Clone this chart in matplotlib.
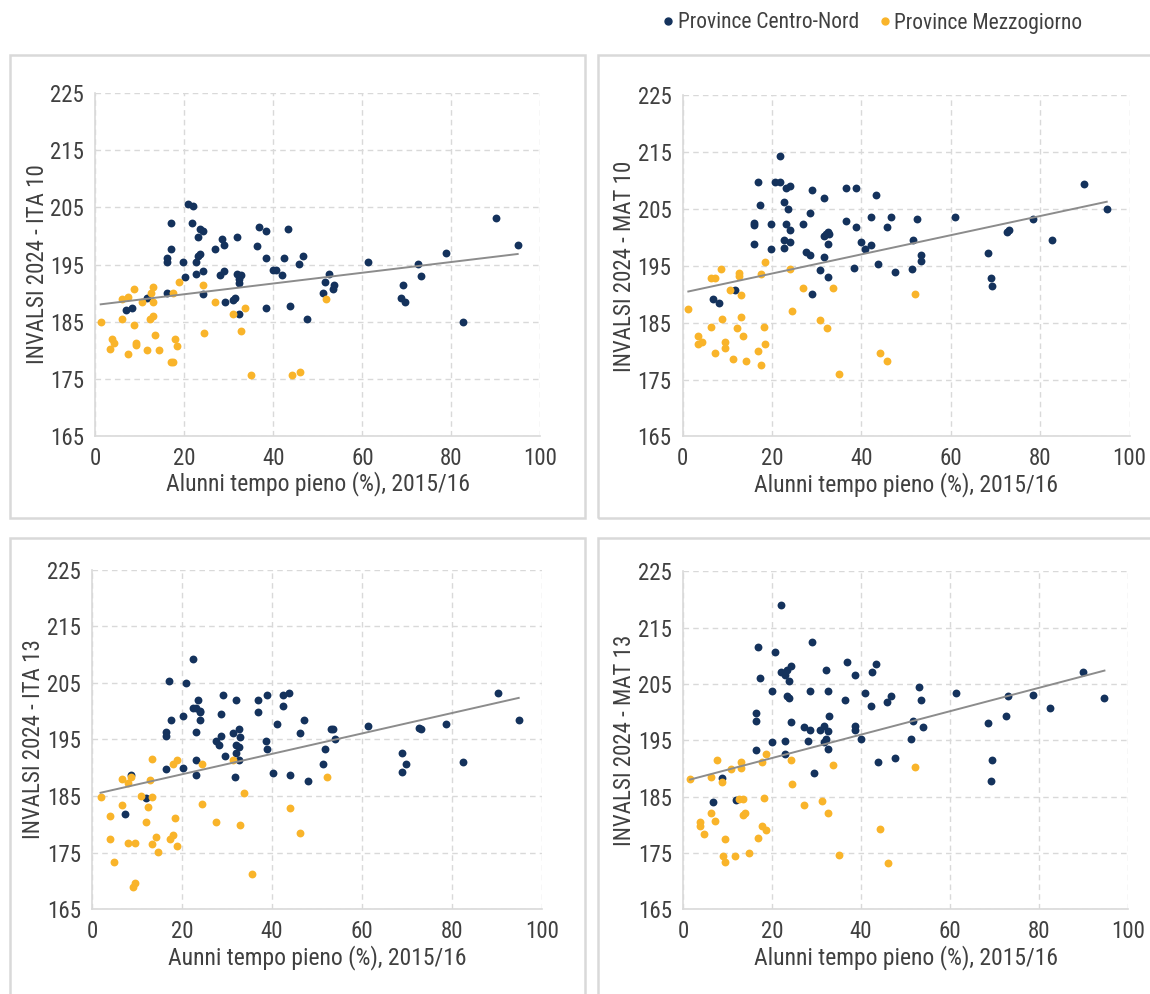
import numpy as np
import matplotlib
matplotlib.use('Agg')
from matplotlib import pyplot as plt
from matplotlib import font_manager as fm
from matplotlib.patches import Rectangle
from matplotlib.lines import Line2D

# pick a condensed face if one is installed, else shrink DejaVu
_faces = [(f.name, str(f.stretch)) for f in fm.fontManager.ttflist]
_names = {n for n, _ in _faces}
SCALE = 1.0
if 'Roboto Condensed' in _names:
    plt.rcParams['font.family'] = ['Roboto Condensed', 'DejaVu Sans']
elif ('DejaVu Sans', 'condensed') in _faces:
    plt.rcParams['font.family'] = ['DejaVu Sans']
    plt.rcParams['font.stretch'] = 'condensed'
elif 'Liberation Sans Narrow' in _names:
    plt.rcParams['font.family'] = ['Liberation Sans Narrow', 'DejaVu Sans']
else:
    plt.rcParams['font.family'] = ['DejaVu Sans']
    SCALE = 0.86

NAVY = '#14325c'
GOLD = '#f9b42a'
TXT = '#404040'
GRID = '#d9d9d9'

# ---- ITA 10 ----
ita10_cn_x = [20.8, 21.9, 16.9, 21.8, 23.6, 24.1, 23.1, 28.4, 28.8, 31.8, 27.0, 36.7, 38.4, 43.2, 36.3,
              16.9, 16.1, 16.1, 19.6, 22.6, 23.1, 23.6, 38.4, 42.3, 46.7, 45.8, 40.0, 40.6, 41.9, 22.6,
              24.1, 20.1, 27.9, 28.8, 31.8, 32.8, 32.3, 32.3, 16.1, 11.7, 24.1, 29.2, 31.0, 31.4, 32.3,
              38.4, 43.7, 47.6, 6.9, 8.3, 52.5, 51.6, 53.7, 53.3, 51.1, 61.2, 69.1, 68.6, 69.5, 72.6,
              73.1, 78.7, 82.6, 90.1, 94.9]
ita10_cn_y = [205.5, 205.2, 202.2, 202.2, 201.2, 200.8, 199.8, 199.5, 198.4, 199.8, 197.8, 201.5, 200.8, 201.2, 198.2,
              197.8, 196.1, 195.5, 195.5, 195.5, 196.5, 196.8, 196.1, 196.1, 196.5, 195.1, 194.1, 194.1, 193.1, 193.4,
              193.8, 192.8, 193.1, 193.8, 193.4, 193.1, 192.4, 191.7, 190.1, 189.1, 189.8, 188.4, 188.8, 189.1, 186.4,
              187.4, 187.7, 185.4, 187.1, 187.4, 193.4, 192.0, 191.4, 190.7, 190.1, 195.4, 191.4, 189.1, 188.4, 195.1,
              193.0, 197.1, 185.0, 203.1, 198.4]
ita10_mz_x = [1.2, 3.8, 4.3, 3.4, 6.0, 6.0, 7.4, 8.6, 8.6, 7.4, 9.1, 9.1, 10.5, 12.6, 13.0, 13.0, 12.2, 13.0,
              13.5, 11.7, 14.4, 17.0, 17.4, 17.8, 18.3, 18.7, 17.4, 24.1, 24.4, 27.0, 31.0, 33.6, 32.8, 34.9,
              44.1, 45.9, 51.8]
ita10_mz_y = [185.0, 182.0, 181.3, 180.3, 185.4, 189.0, 189.4, 190.7, 184.4, 179.3, 181.3, 181.0, 188.4, 190.1,
              191.0, 188.4, 185.4, 186.0, 182.7, 180.0, 180.0, 178.0, 178.0, 182.0, 180.7, 192.0, 190.1, 191.4,
              183.0, 188.4, 186.4, 187.4, 183.3, 175.6, 175.6, 176.2, 189.0]

# ---- MAT 10 ----
mat10_cn_x = [21.9, 16.9, 20.6, 21.9, 23.2, 24.0, 28.9, 31.6, 36.6, 38.7, 43.3, 17.3, 22.7, 23.6, 28.6,
              16.0, 16.0, 19.8, 23.2, 24.0, 26.9, 31.6, 32.0, 32.5, 32.8, 36.6, 38.7, 42.1, 45.8, 46.7,
              16.0, 22.7, 24.0, 22.7, 19.8, 27.7, 28.6, 31.6, 32.5, 40.0, 40.8, 42.1, 30.7, 32.5, 38.4,
              43.7, 47.5, 11.8, 6.8, 8.1, 28.9, 52.5, 51.6, 53.4, 53.4, 51.3, 60.9, 68.4, 68.9, 69.3,
              72.6, 73.0, 78.5, 82.7, 89.8, 94.9]
mat10_cn_y = [214.4, 209.7, 209.7, 209.7, 208.7, 209.0, 208.4, 207.0, 208.7, 208.7, 207.4, 205.7, 206.3, 205.0, 204.3,
              202.5, 202.2, 202.3, 202.3, 201.3, 202.3, 200.3, 200.6, 200.9, 200.6, 202.9, 201.9, 203.6, 201.9, 203.6,
              198.9, 199.6, 199.2, 198.2, 197.9, 197.5, 196.9, 196.5, 198.9, 199.2, 197.9, 198.6, 194.3, 193.0, 194.6,
              195.3, 193.9, 190.8, 189.1, 188.4, 190.1, 203.2, 199.6, 196.9, 195.8, 194.5, 203.6, 197.2, 192.8, 191.4,
              200.9, 201.3, 203.2, 199.6, 209.4, 205.0]
mat10_mz_x = [1.3, 3.5, 3.5, 4.3, 6.4, 7.2, 6.4, 7.3, 8.5, 8.9, 9.4, 9.4, 10.6, 11.4, 12.2, 12.6, 12.6, 13.1,
              13.1, 13.5, 14.3, 16.9, 17.6, 18.2, 18.5, 17.6, 18.5, 24.0, 24.4, 26.9, 30.7, 32.4, 33.7, 34.9,
              44.1, 45.8, 52.1]
mat10_mz_y = [187.4, 182.6, 181.3, 181.6, 184.3, 179.6, 192.8, 192.8, 194.5, 185.7, 181.6, 180.6, 190.8, 178.6,
              184.0, 193.8, 193.2, 189.8, 186.0, 182.6, 178.3, 180.0, 177.6, 184.3, 181.3, 193.5, 195.6, 194.5,
              187.1, 191.1, 185.4, 184.0, 191.1, 175.9, 179.6, 178.3, 190.1]

# ---- ITA 13 ----
ita13_cn_x = [22.4, 17.2, 21.0, 23.6, 22.4, 23.2, 24.1, 24.1, 24.1, 17.6, 20.2, 16.4, 16.4, 23.2, 29.2,
              28.7, 32.1, 36.9, 39.0, 36.9, 42.4, 43.8, 42.4, 41.2, 47.2, 46.3, 27.5, 28.3, 28.7, 31.3,
              32.6, 33.0, 32.1, 32.6, 32.1, 32.6, 29.6, 38.6, 39.0, 23.2, 16.4, 20.2, 23.2, 31.7, 40.3,
              44.1, 48.0, 8.7, 12.1, 7.4, 53.2, 53.6, 54.1, 51.8, 51.3, 61.3, 69.0, 69.8, 69.0, 72.7,
              73.2, 78.7, 82.5, 90.2, 94.9]
ita13_cn_y = [209.3, 205.3, 204.9, 201.9, 200.5, 200.5, 200.1, 199.8, 198.4, 198.4, 199.1, 196.4, 195.7, 196.4, 202.8,
              199.5, 201.9, 201.9, 202.8, 199.8, 202.8, 203.2, 200.9, 197.8, 198.4, 196.1, 194.7, 194.0, 195.7, 196.1,
              196.8, 195.4, 194.0, 193.7, 192.7, 191.4, 192.0, 194.7, 193.4, 191.4, 189.7, 190.0, 188.7, 188.3, 189.0,
              188.7, 187.6, 188.7, 184.6, 181.8, 196.8, 196.8, 195.1, 193.4, 190.7, 197.4, 192.6, 190.7, 189.3, 197.1,
              196.8, 197.8, 191.0, 203.2, 198.4]
ita13_mz_x = [1.9, 4.0, 4.0, 4.9, 6.6, 7.9, 8.7, 6.6, 7.9, 9.6, 9.1, 9.6, 10.8, 13.0, 13.3, 13.3, 12.5, 12.1,
              14.2, 13.3, 14.7, 18.1, 19.0, 18.5, 17.3, 18.1, 19.0, 24.5, 24.5, 27.5, 31.3, 33.9, 33.0, 35.6,
              44.1, 46.3, 52.3]
ita13_mz_y = [184.9, 181.5, 177.4, 173.3, 188.0, 187.4, 188.3, 183.5, 176.8, 176.8, 169.0, 169.7, 185.0, 187.8,
              191.6, 184.9, 183.0, 180.5, 177.8, 176.5, 175.1, 190.7, 191.4, 181.2, 177.4, 178.1, 176.2, 190.7,
              183.6, 180.5, 191.4, 185.6, 179.9, 171.2, 182.9, 178.5, 188.3]

# ---- MAT 13 ----
mat13_cn_x = [22.0, 28.9, 16.9, 20.7, 36.9, 43.4, 42.5, 24.3, 23.4, 22.1, 22.9, 23.8, 32.1, 38.6, 17.3,
              19.9, 28.6, 32.5, 40.8, 23.4, 23.8, 36.4, 42.2, 45.9, 46.8, 16.4, 16.4, 32.9, 24.3, 27.3,
              28.6, 30.8, 31.6, 32.5, 38.6, 38.6, 32.1, 31.6, 32.5, 28.2, 22.9, 19.9, 39.9, 16.4, 22.9,
              43.8, 47.7, 29.5, 8.7, 6.8, 12.0, 53.0, 53.4, 51.7, 53.9, 51.2, 61.3, 68.6, 69.5, 69.1,
              72.6, 73.0, 78.6, 82.5, 89.9, 94.7]
mat13_cn_y = [219.0, 212.5, 211.6, 210.6, 208.9, 208.5, 207.1, 208.2, 207.5, 207.1, 206.5, 205.5, 207.5, 206.5, 206.1,
              203.8, 203.8, 203.8, 203.4, 202.8, 202.5, 202.1, 201.1, 201.8, 202.8, 199.8, 198.5, 199.3, 198.3, 197.3,
              196.9, 196.9, 197.6, 196.6, 197.6, 196.9, 195.2, 194.6, 193.5, 194.9, 194.9, 194.6, 195.2, 193.2, 192.5,
              191.1, 191.9, 189.1, 188.3, 184.1, 184.4, 204.5, 202.1, 198.4, 197.4, 195.3, 203.4, 198.0, 191.5, 187.8,
              199.3, 202.8, 203.1, 200.8, 207.1, 202.5]
mat13_mz_x = [1.6, 3.8, 3.8, 4.7, 6.4, 6.4, 7.3, 8.7, 7.7, 9.4, 9.1, 9.4, 10.8, 11.7, 12.6, 13.4, 13.0, 13.0,
              13.4, 13.9, 14.8, 16.9, 17.8, 18.6, 17.8, 18.6, 18.2, 24.3, 24.6, 27.3, 31.2, 32.5, 33.8, 35.1,
              44.3, 46.1, 52.1]
mat13_mz_y = [188.2, 180.4, 179.7, 178.4, 188.5, 182.1, 180.7, 187.5, 191.5, 177.4, 174.4, 173.3, 189.9, 174.4,
              184.5, 184.5, 191.2, 190.1, 181.8, 182.1, 175.0, 177.7, 179.7, 179.0, 191.2, 192.6, 184.8, 191.5,
              187.2, 183.5, 184.2, 182.1, 190.6, 174.6, 179.3, 173.2, 190.2]

panels = [
    ('INVALSI 2024 - ITA 10', 'Alunni tempo pieno (%), 2015/16', ita10_cn_x, ita10_cn_y, ita10_mz_x, ita10_mz_y,
     [0.0829, 0.5614, 0.387, 0.345]),
    ('INVALSI 2024 - MAT 10', 'Alunni tempo pieno (%), 2015/16', mat10_cn_x, mat10_cn_y, mat10_mz_x, mat10_mz_y,
     [0.5935, 0.5610, 0.3887, 0.343]),
    ('INVALSI 2024 - ITA 13', 'Aunni tempo pieno (%), 2015/16', ita13_cn_x, ita13_cn_y, ita13_mz_x, ita13_mz_y,
     [0.0800, 0.0852, 0.391, 0.3417]),
    ('INVALSI 2024 - MAT 13', 'Alunni tempo pieno (%), 2015/16', mat13_cn_x, mat13_cn_y, mat13_mz_x, mat13_mz_y,
     [0.5939, 0.0853, 0.387, 0.340]),
]

fig = plt.figure(figsize=(11.5, 9.94), dpi=100)

# panel frames (pixel boxes converted to figure fractions)
W, H = 1150., 994.
for (x0, y0, x1, y1) in [(10, 55, 585, 518), (598, 55, 1160, 518), (10, 538, 585, 1010), (598, 538, 1160, 1010)]:
    fig.patches.append(Rectangle((x0 / W, 1 - y1 / H), (x1 - x0) / W, (y1 - y0) / H,
                                 transform=fig.transFigure, fill=False, edgecolor=GRID, lw=1.8, zorder=0))

for ylab, xlab, cx, cy, mx, my, rect in panels:
    ax = fig.add_axes(rect)
    ax.set_xlim(0, 100)
    ax.set_ylim(165, 225)
    ax.set_xticks(range(0, 101, 20))
    ax.set_yticks(range(165, 226, 10))
    ax.grid(True, color=GRID, ls=(0, (4, 3)), lw=1.0)
    ax.set_axisbelow(True)
    for s in ['top', 'right']:
        ax.spines[s].set_visible(False)
    for s in ['left', 'bottom']:
        ax.spines[s].set_color(GRID)
        ax.spines[s].set_linewidth(1.2)
    ax.tick_params(length=0, labelsize=16.5 * SCALE, colors=TXT)
    ax.tick_params(axis='x', pad=8)
    ax.tick_params(axis='y', pad=8)
    ax.set_xlabel(xlab, fontsize=17 * SCALE, color=TXT, labelpad=1)
    ax.set_ylabel(ylab, fontsize=16.5 * SCALE, color=TXT, labelpad=1)

    ax.scatter(cx, cy, s=32, color=NAVY, zorder=3, linewidths=0)
    ax.scatter(mx, my, s=32, color=GOLD, zorder=3, linewidths=0)

    allx = np.array(cx + mx)
    ally = np.array(cy + my)
    k, b = np.polyfit(allx, ally, 1)
    xs = np.array([allx.min(), allx.max()])
    ax.plot(xs, k * xs + b, color='#8c8c8c', lw=1.4, zorder=4)

handles = [Line2D([], [], ls='none', marker='o', ms=5, color=NAVY, label='Province Centro-Nord'),
           Line2D([], [], ls='none', marker='o', ms=5, color=GOLD, label='Province Mezzogiorno')]
fig.legend(handles=handles, loc='center', bbox_to_anchor=(872 / W, 1 - 23 / H), ncol=2, frameon=False,
           fontsize=15.5 * SCALE, labelcolor=TXT, handlelength=0.6, handletextpad=0.15, columnspacing=0.9)

fig.savefig('out.png', dpi=100)
